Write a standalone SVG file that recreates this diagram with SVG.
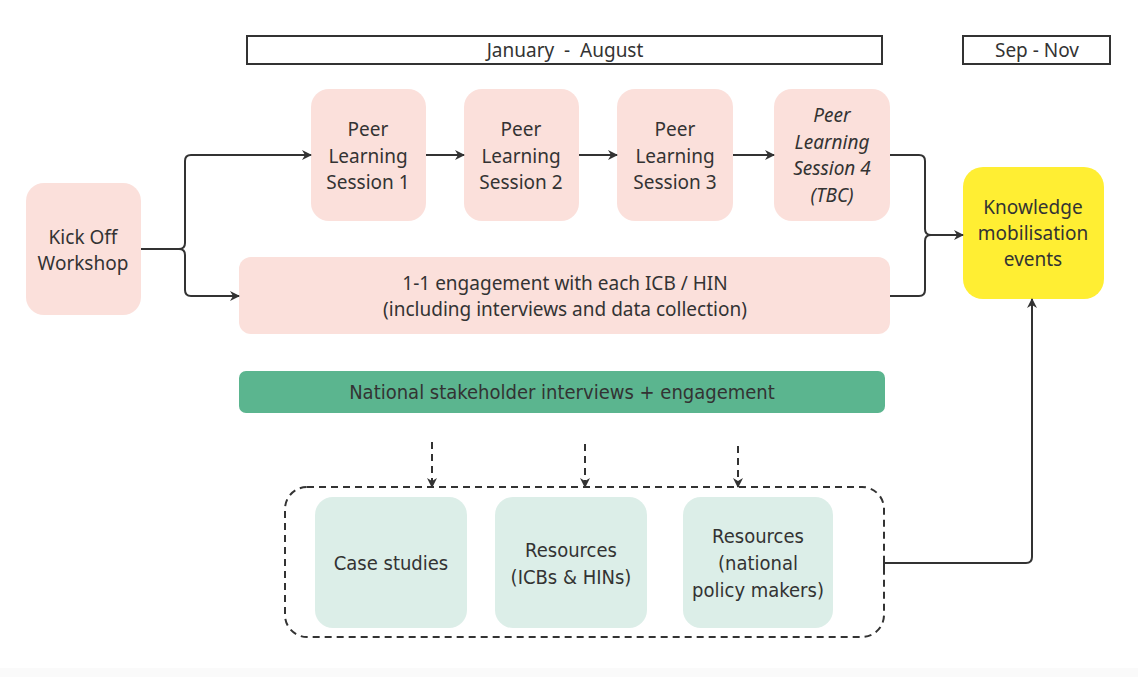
<svg xmlns="http://www.w3.org/2000/svg" width="1138" height="677" viewBox="0 0 1138 677">
<style>
text{font-family:"Noto Sans","Open Sans",sans-serif;font-size:19px;fill:#333;text-anchor:middle}
.c{font-family:"Liberation Sans Narrow","DejaVu Sans Condensed","Roboto",sans-serif;font-size:20px}
.i{font-style:italic}
.pink{fill:#FBE0DB}
.mint{fill:#DCEEE8}
.hdr{fill:#fff;stroke:#333;stroke-width:2}
.ln{fill:none;stroke:#333;stroke-width:2}
.dl{fill:none;stroke:#333;stroke-width:2;stroke-dasharray:7 5}
</style>
<defs>
<marker id="ah" viewBox="0 0 10 10" refX="9" refY="5" markerWidth="10" markerHeight="10" markerUnits="userSpaceOnUse" orient="auto"><path d="M0,0 L10,5 L0,10 L3,5 Z" fill="#333"/></marker>
</defs>
<rect width="1138" height="677" fill="#fff"/>
<rect y="668" width="1138" height="9" fill="#fafafa"/>
<g id="hdr-jan"><rect class="hdr" x="247" y="36" width="635" height="28"/><text x="565" y="57" xml:space="preserve" style="white-space:pre">January  -  August</text></g>
<g id="hdr-sep"><rect class="hdr" x="963" y="36" width="147" height="28"/><text x="1037" y="57">Sep - Nov</text></g>
<g id="kickoff"><rect class="pink" x="26" y="183" width="115" height="132" rx="18"/><text x="83" y="244">Kick Off</text><text x="83" y="270">Workshop</text></g>
<g id="pl1"><rect class="pink" x="311" y="89" width="115" height="132" rx="18"/><text x="368" y="136">Peer</text><text x="368" y="163">Learning</text><text x="368" y="189">Session 1</text></g>
<g id="pl2"><rect class="pink" x="464" y="89" width="115" height="132" rx="18"/><text x="521" y="136">Peer</text><text x="521" y="163">Learning</text><text x="521" y="189">Session 2</text></g>
<g id="pl3"><rect class="pink" x="617" y="89" width="116" height="132" rx="18"/><text x="675" y="136">Peer</text><text x="675" y="163">Learning</text><text x="675" y="189">Session 3</text></g>
<g id="pl4"><rect class="pink" x="774" y="89" width="116" height="132" rx="18"/><text class="i" x="832" y="122">Peer</text><text class="i" x="832" y="149">Learning</text><text class="i" x="832" y="175">Session 4</text><text class="i" x="832" y="202">(TBC)</text></g>
<g id="knowledge"><rect fill="#FFEE33" x="963" y="167" width="141" height="132" rx="20"/><text x="1033" y="214">Knowledge</text><text x="1033" y="240">mobilisation</text><text x="1033" y="266">events</text></g>
<g id="oneone"><rect class="pink" x="239" y="257" width="651" height="77" rx="12"/><text x="565" y="290">1-1 engagement with each ICB / HIN</text><text x="565" y="316">(including interviews and data collection)</text></g>
<g id="national"><rect fill="#5BB58F" x="239" y="371" width="646" height="42" rx="7"/><text class="c" x="562" y="399">National stakeholder interviews + engagement</text></g>
<g id="outputs"><rect class="dl" x="285" y="487" width="599" height="150" rx="22"/></g>
<g id="case"><rect class="mint" x="315" y="497" width="152" height="131" rx="18"/><text class="c" x="391" y="570">Case studies</text></g>
<g id="res-icb"><rect class="mint" x="495" y="497" width="152" height="131" rx="18"/><text class="c" x="571" y="557">Resources</text><text class="c" x="571" y="584">(ICBs &amp; HINs)</text></g>
<g id="res-nat"><rect class="mint" x="683" y="497" width="150" height="131" rx="18"/><text class="c" x="758" y="543">Resources</text><text class="c" x="758" y="570">(national</text><text class="c" x="758" y="597">policy makers)</text></g>
<g id="connectors">
<path class="ln" d="M141,249 H179 Q185,249 185,243 V161 Q185,155 191,155 H311" marker-end="url(#ah)"/>
<path class="ln" d="M179,249 Q185,249 185,255 V290 Q185,296 191,296 H239" marker-end="url(#ah)"/>
<path class="ln" d="M426,155 H464" marker-end="url(#ah)"/>
<path class="ln" d="M579,155 H617" marker-end="url(#ah)"/>
<path class="ln" d="M733,155 H774" marker-end="url(#ah)"/>
<path class="ln" d="M890,155 H919 Q925,155 925,161 V229 Q925,235 931,235 H963" marker-end="url(#ah)"/>
<path class="ln" d="M890,296 H919 Q925,296 925,290 V241 Q925,235 931,235"/>
<path class="ln" d="M884,563 H1026 Q1032,563 1032,557 V299" marker-end="url(#ah)"/>
<path class="ln" d="M884,558 V568"/>
<path class="dl" d="M432,442 V487" stroke-dasharray="6 5" marker-end="url(#ah)"/>
<path class="dl" d="M585,444 V487" stroke-dasharray="6 5" marker-end="url(#ah)"/>
<path class="dl" d="M738,446 V487" stroke-dasharray="6 5" marker-end="url(#ah)"/>
</g>
</svg>
